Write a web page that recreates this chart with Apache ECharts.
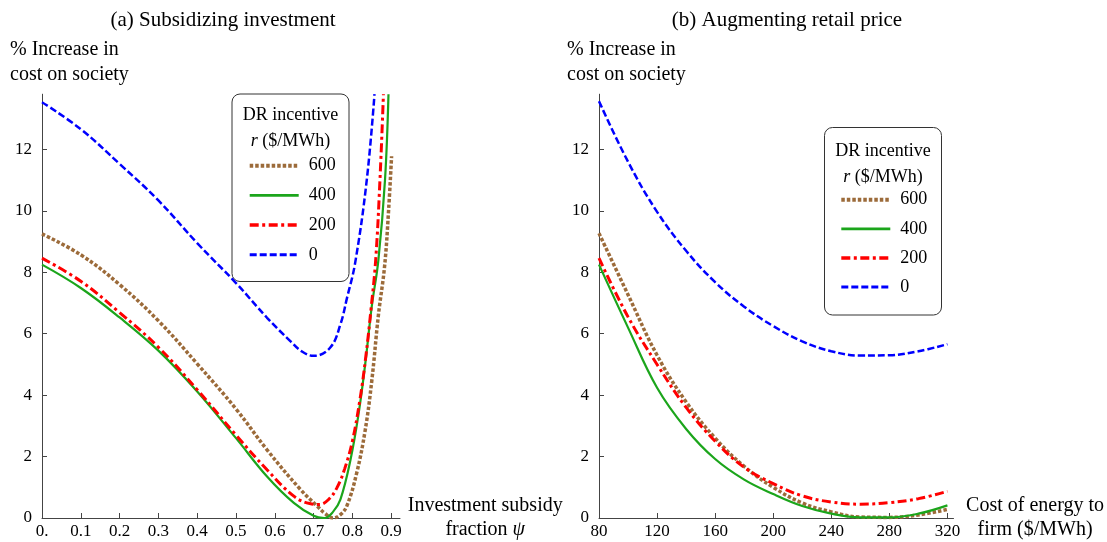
<!DOCTYPE html>
<html>
<head>
<meta charset="utf-8">
<script src="https://cdn.jsdelivr.net/npm/echarts@6/dist/echarts.min.js"></script>
<style>html,body{margin:0;padding:0;background:#fff;}#c{width:1107px;height:542px;}</style>
</head>
<body>
<div id="c"></div>
<script>
// ---------- data ----------
var seriesNames = ['600', '400', '200', '0'];
var yTicks = [0, 2, 4, 6, 8, 10, 12];
var xTicksA = [0, 0.1, 0.2, 0.3, 0.4, 0.5, 0.6, 0.7, 0.8, 0.9];
var xTicksB = [80, 120, 160, 200, 240, 280, 320];

// (a) Subsidizing investment : x = investment subsidy fraction psi
var psiA600 = [0, 0.1, 0.2, 0.3, 0.4, 0.5, 0.58, 0.666, 0.709, 0.73, 0.75, 0.77, 0.786, 0.811, 0.833, 0.85, 0.867, 0.883, 0.893, 0.901];
var costA600 = [9.25, 8.57, 7.60, 6.42, 5.02, 3.55, 2.22, 0.93, 0.39, 0.14, 0.0, 0.12, 0.4, 1.46, 2.86, 4.47, 6.6, 8.2, 9.96, 11.78];
var psiA400 = [0, 0.1, 0.2, 0.3, 0.4, 0.5, 0.58, 0.649, 0.70, 0.728, 0.75, 0.769, 0.795, 0.816, 0.833, 0.85, 0.867, 0.884, 0.893];
var costA400 = [8.25, 7.49, 6.53, 5.45, 4.12, 2.6, 1.35, 0.49, 0.07, 0.0, 0.2, 0.6, 1.89, 3.40, 5.01, 6.9, 8.4, 11.0, 13.8];
var psiA200 = [0, 0.1, 0.2, 0.3, 0.4, 0.5, 0.58, 0.649, 0.69, 0.715, 0.74, 0.76, 0.78, 0.80, 0.82, 0.835, 0.848, 0.86, 0.871, 0.880];
var costA200 = [8.46, 7.71, 6.69, 5.56, 4.18, 2.7, 1.57, 0.71, 0.47, 0.44, 0.62, 0.98, 1.6, 2.5, 3.9, 5.3, 6.8, 8.4, 11.0, 13.8];
var psiA0 = [0, 0.1, 0.2, 0.3, 0.4, 0.5, 0.58, 0.64, 0.67, 0.70, 0.743, 0.769, 0.786, 0.807, 0.837, 0.857];
var costA0 = [13.54, 12.66, 11.53, 10.34, 8.95, 7.65, 6.52, 5.76, 5.42, 5.28, 5.55, 6.3, 7.16, 8.3, 11.0, 13.8];

// (b) Augmenting retail price : x = cost of energy to firm ($/MWh)
var energyB = [80, 100, 120, 140, 160, 180, 200, 220, 240, 260, 280, 300, 320];
var costB600 = [9.27, 7.27, 5.3, 3.78, 2.6, 1.68, 1.0, 0.49, 0.2, 0.03, 0.02, 0.1, 0.28];
var costB400 = [8.25, 6.2, 4.24, 2.9, 1.92, 1.25, 0.78, 0.39, 0.14, 0.02, 0.02, 0.14, 0.41];
var costB200 = [8.46, 6.55, 5.0, 3.6, 2.5, 1.65, 1.12, 0.72, 0.52, 0.45, 0.5, 0.63, 0.87];
var costB0 = [13.57, 11.6, 9.97, 8.7, 7.68, 6.88, 6.25, 5.75, 5.43, 5.29, 5.3, 5.43, 5.66];

// ---------- styling ----------
var FONT = "'Liberation Serif', 'Times New Roman', serif";
var styles = {
  '600': {color: '#9C6B3A', width: 3.5, type: [3.5, 2]},
  '400': {color: '#1BA51B', width: 2.2, type: 'solid'},
  '200': {color: '#FF0000', width: 3, type: [9, 3.5, 3, 3.5]},
  '0':   {color: '#0000FF', width: 2.5, type: [7, 3]}
};
function zip(xs, ys) { return xs.map(function (x, i) { return [x, ys[i]]; }); }
function mk(name, idx, xs, ys) {
  var s = styles[name];
  return {
    name: name, type: 'line', xAxisIndex: idx, yAxisIndex: idx,
    data: zip(xs, ys), symbol: 'none', smooth: 0.4, clip: true,
    lineStyle: {color: s.color, width: s.width, type: s.type, cap: 'butt'},
    itemStyle: {color: s.color}
  };
}
function xAxisCfg(idx, min, max, ticks, nameRich, gap, fmt) {
  return {
    type: 'value', gridIndex: idx, min: min, max: max,
    name: nameRich, nameLocation: 'end', nameGap: gap,
    nameTextStyle: {fontFamily: FONT, fontSize: 20, color: '#000', align: 'center', verticalAlign: 'middle', lineHeight: 24,
      rich: {i: {fontFamily: FONT, fontSize: 20, fontStyle: 'italic', color: '#000', lineHeight: 24}}},
    axisLine: {show: true, onZero: false, lineStyle: {color: '#444', width: 1}},
    axisTick: {show: true, inside: true, length: 5, customValues: ticks, lineStyle: {color: '#444'}},
    axisLabel: {customValues: ticks, formatter: fmt, fontFamily: FONT, fontSize: 17, color: '#000', margin: 5},
    splitLine: {show: false}
  };
}
function yAxisCfg(idx) {
  return {
    type: 'value', gridIndex: idx, min: 0, max: 13.8,
    name: '% Increase in\ncost on society', nameLocation: 'end', nameGap: 7,
    nameTextStyle: {fontFamily: FONT, fontSize: 20, color: '#000', align: 'left', verticalAlign: 'bottom', lineHeight: 25, padding: [0, 0, 0, -32]},
    axisLine: {show: true, lineStyle: {color: '#444', width: 1}},
    axisTick: {show: true, inside: true, length: 5, customValues: yTicks, lineStyle: {color: '#444'}},
    axisLabel: {customValues: yTicks, fontFamily: FONT, fontSize: 17, color: '#000', margin: 10},
    splitLine: {show: false}
  };
}
function legendCfg(left, top, gap) {
  return {
    data: seriesNames.map(function (n) {
      var s = styles[n];
      return {name: n, lineStyle: {color: s.color, width: s.width + 0.5, type: s.type, cap: 'butt'}};
    }),
    orient: 'vertical', left: left, top: top, padding: 0,
    itemWidth: 49, itemHeight: 20, itemGap: gap, selectedMode: false,
    itemStyle: {color: 'rgba(0,0,0,0)', borderWidth: 0, opacity: 0},
    textStyle: {fontFamily: FONT, fontSize: 18, color: '#000', padding: [0, 0, 0, 5]}
  };
}
function boxGraphics(x, y, w, h, cx, ty1, ty2) {
  return [
    {type: 'rect', z: 1, shape: {x: x, y: y, width: w, height: h, r: 8}, style: {fill: '#fff', stroke: '#333', lineWidth: 1}},
    {type: 'text', z: 5, style: {text: 'DR incentive', x: cx, y: ty1, align: 'center', verticalAlign: 'middle', fontFamily: FONT, fontSize: 18, fill: '#000'}},
    {type: 'text', z: 5, style: {text: '{i|r} ($/MWh)', x: cx, y: ty2, align: 'center', verticalAlign: 'middle', fontFamily: FONT, fontSize: 18, fill: '#000',
      rich: {i: {fontStyle: 'italic', fontFamily: FONT, fontSize: 18, fill: '#000'}}}}
  ];
}

var chart = echarts.init(document.getElementById('c'));
chart.setOption({
  backgroundColor: '#fff',
  animation: false,
  title: [
    {text: '(a) Subsidizing investment', left: 223, top: 10, padding: 0, textAlign: 'center',
      textStyle: {fontFamily: FONT, fontSize: 21, fontWeight: 'normal', color: '#000'}},
    {text: '(b) Augmenting retail price', left: 787, top: 10, padding: 0, textAlign: 'center',
      textStyle: {fontFamily: FONT, fontSize: 21, fontWeight: 'normal', color: '#000'}}
  ],
  grid: [
    {left: 42, top: 94.2, width: 358, height: 427.8, containLabel: false},
    {left: 599, top: 94.2, width: 356, height: 427.8, containLabel: false}
  ],
  xAxis: [
    xAxisCfg(0, 0, 0.9227, xTicksA, 'Investment subsidy\nfraction {i|ψ}', 84,
      function (v) { return v === 0 ? '0.' : v.toFixed(1); }),
    xAxisCfg(1, 80, 324.2, xTicksB, 'Cost of energy to\nfirm ($/MWh)', 80,
      function (v) { return String(Math.round(v)); })
  ],
  yAxis: [yAxisCfg(0), yAxisCfg(1)],
  legend: [legendCfg(247.7, 156.7, 11.7), legendCfg(839.3, 190.7, 11.1)],
  graphic: boxGraphics(232, 94, 117, 187.5, 290.5, 115, 141.7)
    .concat(boxGraphics(824.5, 127.5, 117, 187.5, 883, 151, 177.3)),
  series: [
    mk('600', 0, psiA600, costA600),
    mk('400', 0, psiA400, costA400),
    mk('200', 0, psiA200, costA200),
    mk('0', 0, psiA0, costA0),
    mk('600', 1, energyB, costB600),
    mk('400', 1, energyB, costB400),
    mk('200', 1, energyB, costB200),
    mk('0', 1, energyB, costB0)
  ]
});
</script>
</body>
</html>
